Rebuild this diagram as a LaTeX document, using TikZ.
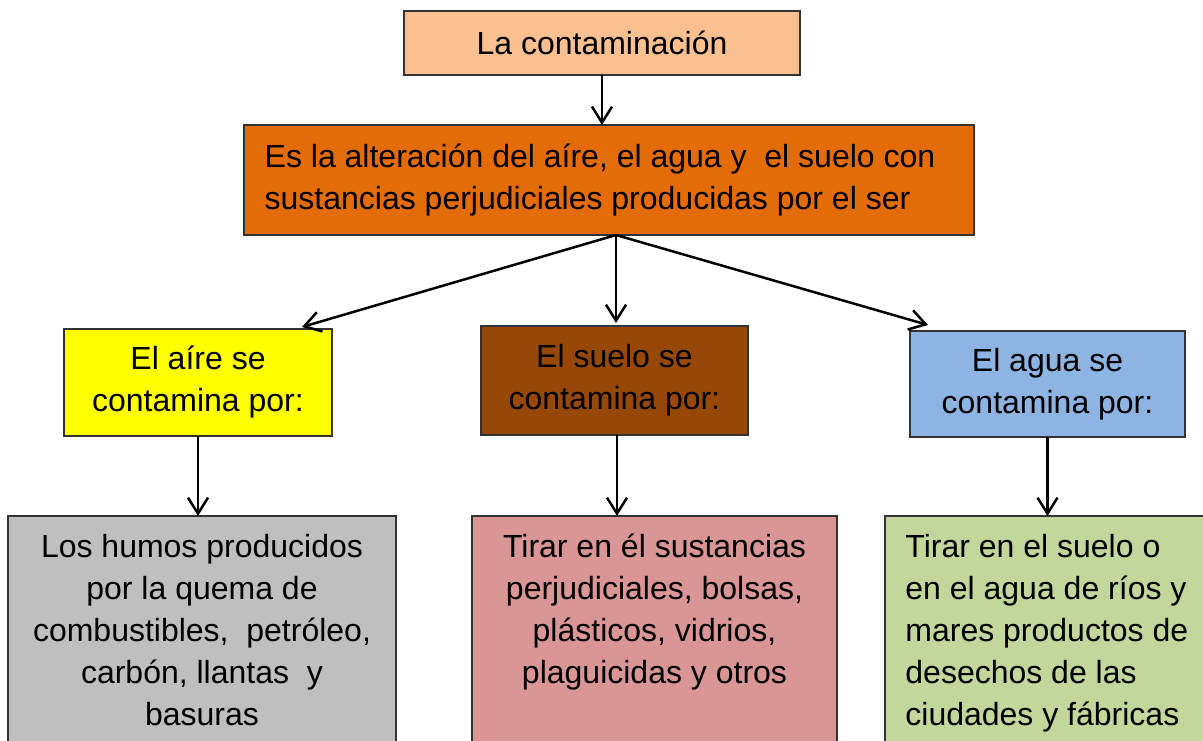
\documentclass[tikz,border=0pt]{standalone}
\usepackage{fontspec}
\setmainfont{Liberation Sans}
\usetikzlibrary{arrows.meta,calc}
\definecolor{peach}{HTML}{FAC090}
\definecolor{orangebox}{HTML}{E36C09}
\definecolor{yellowbox}{HTML}{FFFF00}
\definecolor{brownbox}{HTML}{974806}
\definecolor{bluebox}{HTML}{8EB4E3}
\definecolor{graybox}{HTML}{BFBFBF}
\definecolor{pinkbox}{HTML}{D99694}
\definecolor{greenbox}{HTML}{C3D69B}
\begin{document}
\begin{tikzpicture}[x=0.5pt,y=-0.5pt,
  box/.style={draw=black!80, line width=0.6pt, outer sep=0pt, inner sep=0pt,
              font=\fontsize{16}{21}\selectfont},
  txt/.style={inner sep=0pt, font=\fontsize{16}{21}\selectfont},
  arr/.style={line width=1.25pt, -{Straight Barb[length=8pt,width=10pt,line width=1.25pt]}}
]
\useasboundingbox (0,0) rectangle (1203,740);
\clip (0,0) rectangle (1203,740);
\fill[white] (0,0) rectangle (1203,740);

\node[box, fill=peach, minimum width=198pt, minimum height=32pt] (b0) at (602,43) {La contaminación};
\node[box, fill=orangebox, minimum width=365pt, minimum height=55pt, align=left] (b1) at (609,180)
  {Es la alteración del aíre, el agua y\ \ el suelo con\hspace*{9pt}\\sustancias perjudiciales producidas por el ser};
\node[box, fill=yellowbox, minimum width=134pt, minimum height=53.5pt, align=center] (b2) at (198,382.5)
  {El aíre se\\contamina por:};
\node[box, fill=brownbox, minimum width=133.5pt, minimum height=54.5pt, align=center] (b3) at (614.5,380.5)
  {El suelo se\\contamina por:};
\node[box, fill=bluebox, minimum width=137.5pt, minimum height=53pt, align=center] (b4) at (1047.5,384)
  {El agua se\\contamina por:};

\node[box, fill=graybox, minimum width=194pt, minimum height=122pt] (b5) at (202,638) {};
\node[box, fill=pinkbox, minimum width=182.5pt, minimum height=122pt] (b6) at (654.5,638) {};
\node[box, fill=greenbox, minimum width=167.5pt, minimum height=122pt] (b7) at (1052.5,638) {};

\node[txt, anchor=north, align=center] (t5) at (202,534)
  {Los humos producidos\\por la quema de\\combustibles,\ \ petróleo,\\carbón, llantas\ \ y\\basuras};
\node[txt, anchor=north, align=center] (t6) at (654.5,534)
  {Tirar en él sustancias\\perjudiciales, bolsas,\\plásticos, vidrios,\\plaguicidas y otros};
\node[txt, anchor=north west, align=left] (t7) at (905,534)
  {Tirar en el suelo o\\en el agua de ríos y\\mares productos de\\desechos de las\\ciudades y fábricas};

\coordinate (f) at ($(b1.south)+(7,0)$);
\coordinate (s3) at ($(b3.south)+(2.5,0)$);
\draw[arr] (b0.south) -- (b0.south |- b1.north);
\draw[arr] (f) -- ($(b2.north east)+(-30,-2)$);
\draw[arr, shorten >=1.5pt] (f) -- (f |- b3.north);
\draw[arr] (f) -- ($(b4.north west)+(18,-6)$);
\draw[arr] (b2.south) -- (b2.south |- b5.north);
\draw[arr] (s3) -- (s3 |- b6.north);
\draw[arr] (b4.south) -- (b4.south |- b7.north);
\end{tikzpicture}
\end{document}
